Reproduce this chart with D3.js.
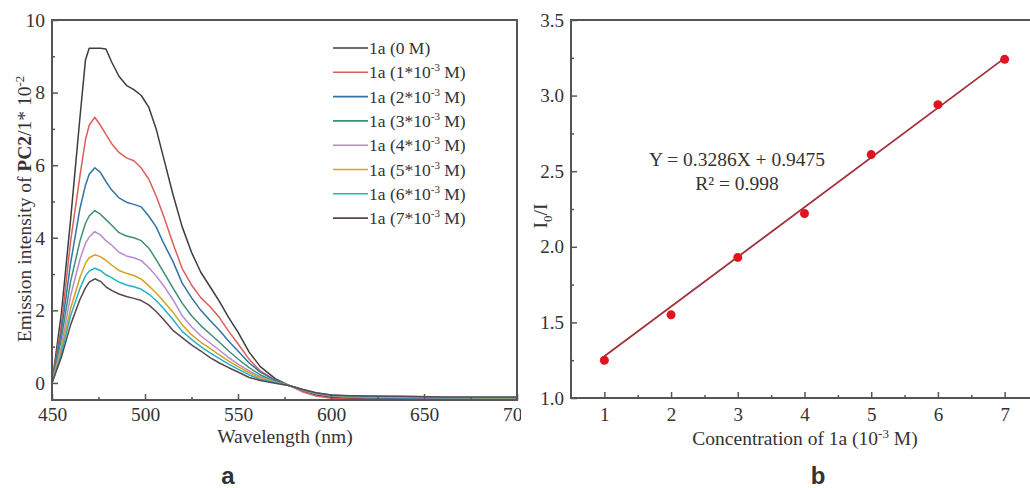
<!DOCTYPE html>
<html>
<head>
<meta charset="utf-8">
<script src="https://cdn.jsdelivr.net/npm/d3@7/dist/d3.min.js"></script>
<style>
  body { margin: 0; background: #fff; }
  text { font-family: "Liberation Serif", "Times New Roman", serif; fill: #333; }
</style>
</head>
<body>
<svg width="1030" height="488"></svg>
<script>
// ---- panel a: emission spectra ----
const wavelengths = [450, 455, 460, 465, 468, 470, 473, 476, 479, 482, 486, 490, 494, 498, 502, 506, 510, 515, 520, 525,
  530, 535, 540, 545, 550, 556, 562, 570, 578, 585, 592, 600, 610, 620, 640, 660, 680, 700];

const conc0 = [0, 1.9, 4.5, 7.3, 8.9, 9.22, 9.22, 9.22, 9.2, 8.85, 8.45, 8.2, 8.08, 7.92, 7.6, 7.0, 6.2, 5.2, 4.3, 3.6,
  3.05, 2.65, 2.25, 1.8, 1.4, 0.85, 0.45, 0.12, -0.08, -0.22, -0.33, -0.4, -0.43, -0.44, -0.44, -0.44, -0.44, -0.44];
const conc1 = [0, 1.6, 3.9, 5.7, 6.7, 7.1, 7.32, 7.1, 6.85, 6.6, 6.35, 6.2, 6.12, 5.92, 5.62, 5.15, 4.6, 3.85, 3.15, 2.7,
  2.35, 2.1, 1.8, 1.42, 1.08, 0.65, 0.33, 0.08, -0.08, -0.25, -0.36, -0.42, -0.45, -0.45, -0.45, -0.46, -0.45, -0.45];
const conc2 = [0, 1.4, 3.3, 4.8, 5.45, 5.75, 5.93, 5.8, 5.55, 5.32, 5.1, 4.98, 4.92, 4.85, 4.6, 4.3, 3.85, 3.35, 2.75, 2.35,
  2.0, 1.72, 1.45, 1.15, 0.88, 0.55, 0.3, 0.07, -0.08, -0.2, -0.3, -0.36, -0.39, -0.41, -0.42, -0.44, -0.44, -0.44];
const conc3 = [0, 1.2, 2.8, 3.9, 4.4, 4.6, 4.75, 4.65, 4.5, 4.35, 4.14, 4.05, 4.0, 3.92, 3.72, 3.4, 3.05, 2.62, 2.2, 1.85,
  1.58, 1.35, 1.12, 0.88, 0.66, 0.42, 0.22, 0.04, -0.08, -0.2, -0.3, -0.36, -0.38, -0.39, -0.4, -0.41, -0.42, -0.42];
const conc4 = [0, 1.0, 2.4, 3.4, 3.85, 4.02, 4.17, 4.08, 3.92, 3.8, 3.6, 3.5, 3.45, 3.37, 3.18, 2.95, 2.68, 2.3, 1.85, 1.55,
  1.3, 1.1, 0.9, 0.7, 0.52, 0.33, 0.17, 0.03, -0.08, -0.2, -0.3, -0.35, -0.38, -0.39, -0.4, -0.41, -0.41, -0.41];
const conc5 = [0, 0.9, 2.05, 2.9, 3.3, 3.45, 3.53, 3.48, 3.38, 3.25, 3.1, 3.02, 2.96, 2.86, 2.68, 2.48, 2.25, 1.95, 1.6, 1.33,
  1.12, 0.95, 0.77, 0.6, 0.45, 0.28, 0.14, 0.02, -0.08, -0.19, -0.28, -0.34, -0.37, -0.38, -0.39, -0.4, -0.41, -0.41];
const conc6 = [0, 0.8, 1.85, 2.6, 2.95, 3.08, 3.16, 3.1, 2.98, 2.9, 2.78, 2.7, 2.65, 2.58, 2.45, 2.27, 2.05, 1.75, 1.42, 1.2,
  1.0, 0.83, 0.67, 0.52, 0.38, 0.22, 0.1, 0.01, -0.08, -0.19, -0.28, -0.33, -0.36, -0.37, -0.38, -0.4, -0.4, -0.4];
const conc7 = [0, 0.7, 1.6, 2.3, 2.62, 2.78, 2.87, 2.8, 2.65, 2.55, 2.45, 2.38, 2.33, 2.27, 2.15, 1.97, 1.75, 1.45, 1.25, 1.05,
  0.88, 0.7, 0.55, 0.42, 0.3, 0.15, 0.07, -0.01, -0.08, -0.18, -0.27, -0.33, -0.35, -0.36, -0.37, -0.39, -0.39, -0.39];

const spectra = [conc0, conc1, conc2, conc3, conc4, conc5, conc6, conc7];
const legendConc = ['0', '1', '2', '3', '4', '5', '6', '7'];
const spectraColors = ['#3d3d3d', '#d9605a', '#3273a8', '#3d8f74', '#b98ad0', '#d4a21a', '#22b3c6', '#5c4550'];
const wlTicks = [450, 500, 550, 600, 650, 700];
const intensityTicks = [0, 2, 4, 6, 8, 10];

// ---- panel b: Stern-Volmer plot ----
const concentration = [1, 2, 3, 4, 5, 6, 7];
const ratio = [1.25, 1.55, 1.93, 2.22, 2.61, 2.94, 3.24];
const fitSlope = 0.3286;
const fitIntercept = 0.9475;
const concTicks = [1, 2, 3, 4, 5, 6, 7];
const ratioTicks = [1.0, 1.5, 2.0, 2.5, 3.0, 3.5];

const svg = d3.select('svg');
const axisColor = '#555';
const fontSize = 19.5;

// superscript helper, pixel offsets so the baseline comes back exactly
function sup(textSel, s, size) {
  textSel.append('tspan').attr('dy', -7).attr('font-size', size || 12).text(s);
}
function back(textSel, s) {
  textSel.append('tspan').attr('dy', 7).text(s);
}

// ===== panel a =====
const xA = d3.scaleLinear().domain([450, 700]).range([52, 517]);
const yA = d3.scaleLinear().domain([-0.47, 10]).range([400, 20]);

svg.append('defs').append('clipPath').attr('id', 'clipA')
  .append('rect').attr('x', 0).attr('y', 0).attr('width', 521).attr('height', 488);

const gA = svg.append('g').attr('clip-path', 'url(#clipA)');

const line = d3.line()
  .x((d, i) => xA(wavelengths[i]))
  .y(d => yA(d));

gA.append('g').selectAll('path')
  .data(spectra)
  .join('path')
  .attr('d', line)
  .attr('fill', 'none')
  .attr('stroke', (d, i) => spectraColors[i])
  .attr('stroke-width', 1.5)
  .attr('stroke-linejoin', 'round');

// minor ticks
gA.append('g').attr('transform', 'translate(0,400)')
  .call(d3.axisBottom(xA).tickValues(d3.range(475, 700, 50)).tickSize(-3).tickFormat(''))
  .call(g => g.select('.domain').remove());
gA.append('g').attr('transform', 'translate(52,0)')
  .call(d3.axisLeft(yA).tickValues([1, 3, 5, 7, 9]).tickSize(-3).tickFormat(''))
  .call(g => g.select('.domain').remove());

const axA = gA.append('g').attr('transform', 'translate(0,400)')
  .call(d3.axisBottom(xA).tickValues(wlTicks).tickSize(-6).tickPadding(7));
const ayA = gA.append('g').attr('transform', 'translate(52,0)')
  .call(d3.axisLeft(yA).tickValues(intensityTicks).tickSize(-6).tickPadding(7));
[axA, ayA].forEach(a => {
  a.select('.domain').remove();
  a.selectAll('text').attr('font-size', fontSize).attr('font-family', '"Liberation Serif", serif').attr('fill', '#333');
});
gA.selectAll('.tick line').attr('stroke', axisColor).attr('stroke-width', 1.5);

gA.append('rect')
  .attr('x', 52).attr('y', 20).attr('width', 465).attr('height', 380)
  .attr('fill', 'none').attr('stroke', axisColor).attr('stroke-width', 2);

// legend
const legend = gA.append('g').attr('transform', 'translate(333,48)');
const legendRow = legend.selectAll('g').data(legendConc).join('g')
  .attr('transform', (d, i) => `translate(0,${i * 24.3})`);
legendRow.append('line')
  .attr('x1', 0).attr('x2', 35)
  .attr('stroke', (d, i) => spectraColors[i]).attr('stroke-width', 1.6);
const legendText = legendRow.append('text')
  .attr('x', 36).attr('y', 6).attr('font-size', 17.5);
legendText.each(function (d) {
  const t = d3.select(this);
  if (d === '0') {
    t.text('1a (0 M)');
  } else {
    t.append('tspan').text(`1a (${d}*10`);
    sup(t, '-3', 11);
    back(t, ' M)');
  }
});

svg.append('text')
  .attr('x', 285).attr('y', 443)
  .attr('text-anchor', 'middle').attr('font-size', fontSize)
  .text('Wavelength (nm)');

const yLabA = svg.append('text')
  .attr('transform', 'translate(31,209) rotate(-90)')
  .attr('text-anchor', 'middle').attr('font-size', fontSize);
yLabA.append('tspan').text('Emission intensity of ');
yLabA.append('tspan').attr('font-weight', 'bold').text('PC2');
yLabA.append('tspan').text('/1* 10');
sup(yLabA, '-2', 13);

svg.append('text')
  .attr('x', 228).attr('y', 484)
  .attr('text-anchor', 'middle').attr('font-size', 24).attr('font-weight', 'bold')
  .style('font-family', '"Liberation Sans", Arial, sans-serif').attr('fill', '#111')
  .text('a');

// ===== panel b =====
const xB = d3.scaleLinear().domain([0.5, 7.5]).range([571, 1038]);
const yB = d3.scaleLinear().domain([1.0, 3.5]).range([398, 20]);
const gB = svg.append('g');

gB.append('g').attr('transform', 'translate(0,398)')
  .call(d3.axisBottom(xB).tickValues(d3.range(1.5, 7.6, 1)).tickSize(-3).tickFormat(''))
  .call(g => g.select('.domain').remove());
gB.append('g').attr('transform', 'translate(571,0)')
  .call(d3.axisLeft(yB).tickValues(d3.range(1.25, 3.5, 0.5)).tickSize(-3).tickFormat(''))
  .call(g => g.select('.domain').remove());

const axB = gB.append('g').attr('transform', 'translate(0,398)')
  .call(d3.axisBottom(xB).tickValues(concTicks).tickSize(-6).tickPadding(10).tickFormat(d3.format('d')));
const ayB = gB.append('g').attr('transform', 'translate(571,0)')
  .call(d3.axisLeft(yB).tickValues(ratioTicks).tickSize(-6).tickPadding(7).tickFormat(d3.format('.1f')));
[axB, ayB].forEach(a => {
  a.select('.domain').remove();
  a.selectAll('text').attr('font-size', 19).attr('font-family', '"Liberation Serif", serif').attr('fill', '#333');
});
gB.selectAll('.tick line').attr('stroke', axisColor).attr('stroke-width', 1.5);

gB.append('path')
  .attr('d', `M1032,20H571V398H1032`)
  .attr('fill', 'none').attr('stroke', axisColor).attr('stroke-width', 2);

const fitEnds = [concentration[0], concentration[concentration.length - 1]];
gB.append('line')
  .attr('x1', xB(fitEnds[0])).attr('y1', yB(fitSlope * fitEnds[0] + fitIntercept))
  .attr('x2', xB(fitEnds[1])).attr('y2', yB(fitSlope * fitEnds[1] + fitIntercept))
  .attr('stroke', '#a0303a').attr('stroke-width', 1.8);

gB.selectAll('circle')
  .data(concentration)
  .join('circle')
  .attr('cx', d => xB(d))
  .attr('cy', (d, i) => yB(ratio[i]))
  .attr('r', 4.5)
  .attr('fill', '#e0141e');

gB.append('text')
  .attr('x', 737).attr('y', 166)
  .attr('text-anchor', 'middle').attr('font-size', fontSize)
  .text(`Y = ${fitSlope}X + ${fitIntercept}`);
gB.append('text')
  .attr('x', 737).attr('y', 190)
  .attr('text-anchor', 'middle').attr('font-size', fontSize)
  .text('R² = 0.998');

const xLabB = svg.append('text')
  .attr('x', 805).attr('y', 445)
  .attr('text-anchor', 'middle').attr('font-size', fontSize);
xLabB.append('tspan').text('Concentration of 1a (10');
sup(xLabB, '-3', 13);
back(xLabB, ' M)');

const yLabB = svg.append('text')
  .attr('transform', 'translate(547,216) rotate(-90)')
  .attr('text-anchor', 'middle').attr('font-size', fontSize);
yLabB.append('tspan').text('I');
yLabB.append('tspan').attr('dy', 5).attr('font-size', 13).text('0');
yLabB.append('tspan').attr('dy', -5).text('/I');

svg.append('text')
  .attr('x', 818).attr('y', 484)
  .attr('text-anchor', 'middle').attr('font-size', 24).attr('font-weight', 'bold')
  .style('font-family', '"Liberation Sans", Arial, sans-serif').attr('fill', '#111')
  .text('b');
</script>
</body>
</html>
